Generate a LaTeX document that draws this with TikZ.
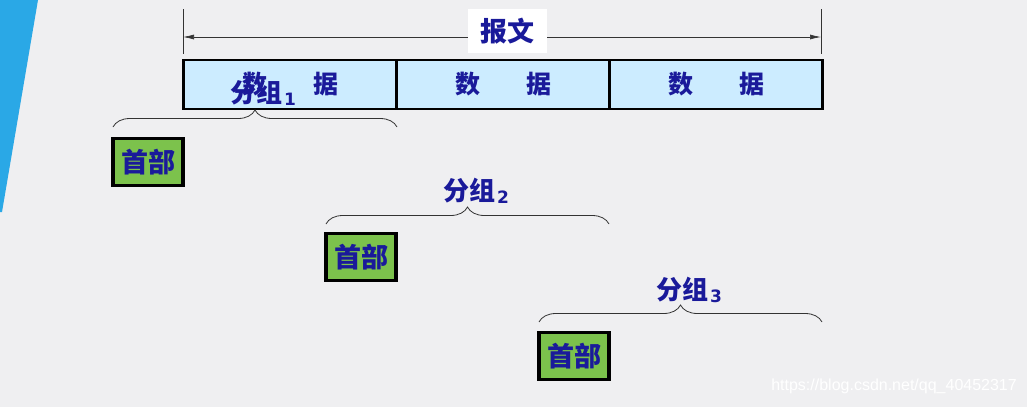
\documentclass[tikz,border=0pt]{standalone}
\usepackage{fontspec}
\newfontfamily\cjk{Noto Sans CJK SC}
\newfontfamily\dvs{DejaVu Sans}
\setsansfont{Liberation Sans}
\usetikzlibrary{decorations.pathreplacing,arrows.meta}
\definecolor{bg}{HTML}{EFEFF1}
\definecolor{strip}{HTML}{2AA8E6}
\definecolor{txt}{HTML}{1A1A9A}
\definecolor{datafill}{HTML}{CCECFF}
\definecolor{hdrfill}{HTML}{7CC24C}
\tikzset{
  databox/.style={draw=black, line width=2.6pt, fill=datafill, minimum width=213pt, minimum height=49pt, inner sep=0pt, text=txt, font=\cjk\bfseries\fontsize{25}{25}\selectfont},
  hdrbox/.style={draw=black, line width=3.6pt, fill=hdrfill, minimum width=70pt, minimum height=47pt, inner sep=0pt, text=txt, font=\cjk\bfseries\fontsize{27}{27}\selectfont},
  grplabel/.style={text=txt, inner sep=0pt, font=\cjk\bfseries\fontsize{26}{26}\selectfont},
  bracestyle/.style={decorate, decoration={brace, amplitude=17pt}, line width=0.8pt, draw=black!80},
  tick/.style={line width=0.7pt, draw=black!80},
}
\newcommand{\sub}[1]{\kern2pt\raisebox{-2.5pt}{\dvs\bfseries\fontsize{17}{17}\selectfont #1}}
\begin{document}
\begin{tikzpicture}[x=1pt,y=-1pt]
\useasboundingbox (0,0) rectangle (1027,407);
\fill[bg] (0,0) rectangle (1027,407);
\fill[strip] (0,0) -- (38,0) -- (2,212) -- (0,212) -- cycle;

% dimension line
\coordinate (L) at (183,37);
\coordinate (R) at (821,37);
\coordinate (Lt) at (183,9);
\coordinate (Lb) at (183,54);
\coordinate (Rt) at (821,9);
\coordinate (Rb) at (821,54);
\draw[tick] (Lt) -- (Lb);
\draw[tick] (Rt) -- (Rb);
\draw[tick, {Latex[length=11pt,width=5pt]}-{Latex[length=11pt,width=5pt]}] (L) -- (R);
\node[fill=white, text=txt, inner sep=0pt, minimum width=79pt, minimum height=44pt, font=\cjk\bfseries\fontsize{27}{27}\selectfont] (msg) at (507.5,31) {报文};

% data boxes
\node[databox] (d1) at (290,84.5) {数\hspace{46pt}据};
\node[databox] (d2) at (503.5,84.5) {数\hspace{46pt}据};
\node[databox] (d3) at (716,84.5) {数\hspace{46pt}据};

% group 1
\coordinate (b1l) at (113,127);
\coordinate (b1r) at (397,127);
\draw[bracestyle] (b1l) -- (b1r);
\node[grplabel] (g1) at (263,93) {分组\sub{1}};
\node[hdrbox] (h1) at (148,162) {首部};

% group 2
\coordinate (b2l) at (326,224);
\coordinate (b2r) at (609,224);
\draw[bracestyle] (b2l) -- (b2r);
\node[grplabel] (g2) at (476,191) {分组\sub{2}};
\node[hdrbox] (h2) at (361,257) {首部};

% group 3
\coordinate (b3l) at (539,322);
\coordinate (b3r) at (822,322);
\draw[bracestyle] (b3l) -- (b3r);
\node[grplabel] (g3) at (689,290) {分组\sub{3}};
\node[hdrbox] (h3) at (574,356) {首部};

% watermark
\node[text=white, inner sep=0pt, anchor=east, font=\sffamily\fontsize{16}{16}\selectfont] (wm) at (1017,386) {https://blog.csdn.net/qq\_40452317};
\end{tikzpicture}
\end{document}
